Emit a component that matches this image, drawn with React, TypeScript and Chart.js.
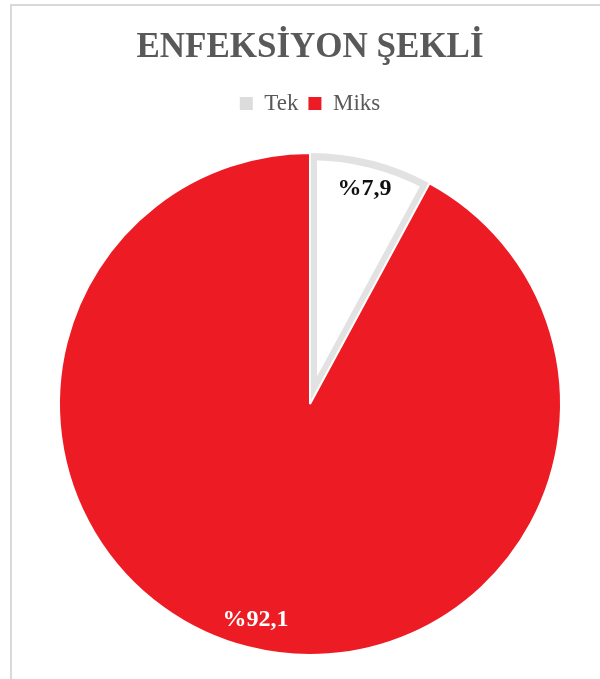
import React, { useEffect, useRef } from "react";
import { Chart, registerables } from "chart.js";

Chart.register(...registerables);

const TITLE = "ENFEKSİYON ŞEKLİ";
const CATEGORIES = ["Tek", "Miks"];
const VALUES = [7.9, 92.1];
const VALUE_LABELS = ["%7,9", "%92,1"];
const FILL_COLORS = ["#ffffff", "#ED1C24"];
const LEGEND_COLORS = ["#dcdcdc", "#ED1C24"];
const BORDER_COLORS = ["#e2e2e2", "#ffffff"];
const LABEL_COLORS = ["#111111", "#ffffff"];

const SERIF = "'Liberation Serif', 'Times New Roman', 'DejaVu Serif', serif";

export default function App() {
  const ref = useRef<HTMLCanvasElement | null>(null);

  useEffect(() => {
    if (!ref.current) return;

    const legendSpacer = {
      id: "legendSpacer",
      afterInit(chart: any) {
        const legend = chart.legend;
        if (!legend) return;
        const orig = legend.fit;
        legend.fit = function () {
          orig.call(this);
          this.height += 27;
        };
      },
    };

    const valueLabels = {
      id: "valueLabels",
      afterDatasetsDraw(chart: any) {
        const ctx = chart.ctx;
        const meta = chart.getDatasetMeta(0);
        meta.data.forEach((arc: any, i: number) => {
          const p = arc.getProps(["x", "y", "startAngle", "endAngle", "outerRadius"], true);
          const mid = (p.startAngle + p.endAngle) / 2;
          const r = p.outerRadius * 0.885;
          const x = p.x + Math.cos(mid) * r;
          const y = p.y + Math.sin(mid) * r;
          ctx.save();
          ctx.font = `bold 24px ${SERIF}`;
          ctx.fillStyle = LABEL_COLORS[i];
          ctx.textAlign = "center";
          ctx.textBaseline = "middle";
          ctx.fillText(VALUE_LABELS[i], x, y);
          ctx.restore();
        });
      },
    };

    const chart = new Chart(ref.current, {
      type: "pie",
      data: {
        labels: CATEGORIES,
        datasets: [
          {
            data: VALUES,
            backgroundColor: FILL_COLORS,
            borderColor: BORDER_COLORS,
            borderWidth: [7, 2],
            borderAlign: ["inner", "center"] as any,
            hoverOffset: 0,
            offset: 0,
          },
        ],
      },
      options: {
        responsive: false,
        animation: false,
        events: [],
        layout: { padding: { top: 4, left: 20, right: 0, bottom: 23 } },
        plugins: {
          title: {
            display: true,
            text: TITLE,
            color: "#595959",
            font: { family: SERIF, size: 35, weight: "bold" },
            padding: { top: 23, bottom: 13 },
          },
          legend: {
            display: true,
            position: "top",
            labels: {
              color: "#595959",
              font: { family: SERIF, size: 23 },
              boxWidth: 13,
              boxHeight: 13,
              padding: 10,
              generateLabels: () =>
                CATEGORIES.map((c, i) => ({
                  text: c,
                  fillStyle: LEGEND_COLORS[i],
                  strokeStyle: LEGEND_COLORS[i],
                  lineWidth: 0,
                  fontColor: "#595959",
                  hidden: false,
                  index: i,
                })),
            },
          },
          tooltip: { enabled: false },
        },
      },
      plugins: [legendSpacer, valueLabels],
    });

    return () => chart.destroy();
  }, []);

  return (
    <div style={{ position: "fixed", left: 0, top: 0, width: 600, height: 679, background: "#ffffff" }}>
      <canvas ref={ref} width={600} height={679} style={{ position: "absolute", left: 0, top: 0 }} />
      <div
        style={{
          position: "absolute",
          left: 10,
          top: 4,
          right: 0,
          bottom: 0,
          borderTop: "2px solid #d9d9d9",
          borderLeft: "2px solid #d9d9d9",
          pointerEvents: "none",
        }}
      />
    </div>
  );
}
